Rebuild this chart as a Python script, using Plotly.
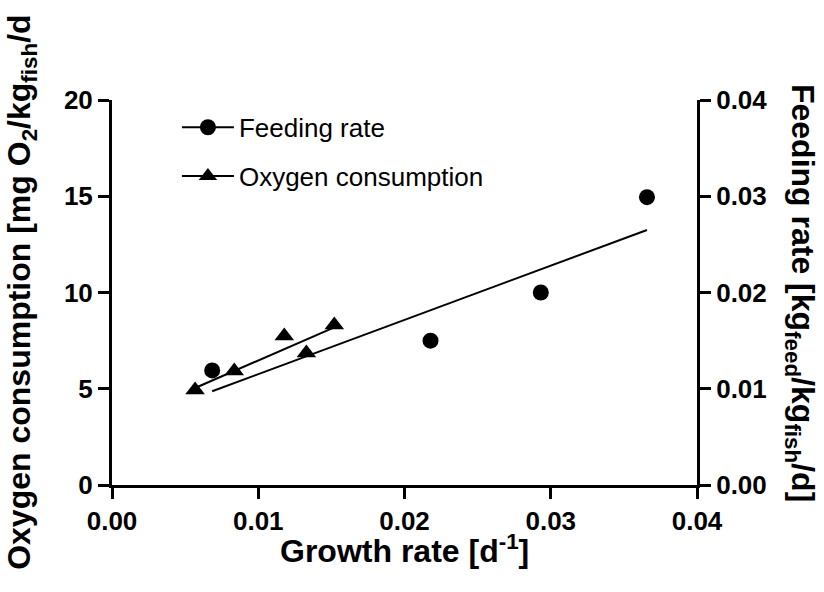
import numpy as np
import plotly.graph_objects as go

# Data
growth_feed = [0.00685, 0.02178, 0.02932, 0.03658]
feeding_rate = [0.0119, 0.0150, 0.0200, 0.0299]

growth_oxy = [0.00568, 0.00836, 0.01178, 0.01329, 0.0152]
oxygen_consumption = [4.94, 5.92, 7.74, 6.86, 8.31]

x_ticks = [0.00, 0.01, 0.02, 0.03, 0.04]
y_ticks = [0, 5, 10, 15, 20]
y2_ticks = [0.00, 0.01, 0.02, 0.03, 0.04]

FONT = "Liberation Sans, Arial, sans-serif"

# linear fits
pf = np.polyfit(growth_feed, feeding_rate, 1)
po = np.polyfit(growth_oxy, oxygen_consumption, 1)
fx = [min(growth_feed), max(growth_feed)]
ox = [min(growth_oxy), max(growth_oxy)]

fig = go.Figure()

fig.add_trace(go.Scatter(x=fx, y=list(np.polyval(pf, fx)), mode="lines",
                         line=dict(color="black", width=2), yaxis="y2",
                         showlegend=False, hoverinfo="skip"))
fig.add_trace(go.Scatter(x=ox, y=list(np.polyval(po, ox)), mode="lines",
                         line=dict(color="black", width=2),
                         showlegend=False, hoverinfo="skip"))
fig.add_trace(go.Scatter(x=growth_feed, y=feeding_rate, mode="markers", yaxis="y2",
                         marker=dict(symbol="circle", size=16, color="black"),
                         showlegend=False))
fig.add_trace(go.Scatter(x=growth_oxy, y=oxygen_consumption, mode="markers",
                         marker=dict(symbol="triangle-up", size=17, color="black"),
                         showlegend=False))

# legend entries
fig.add_trace(go.Scatter(x=[None], y=[None], mode="lines+markers", name="Feeding rate",
                         line=dict(color="black", width=2),
                         marker=dict(symbol="circle", size=16, color="black"),
                         legendgroup="a"))
fig.add_trace(go.Scatter(x=[None], y=[None], mode="lines+markers", name="Oxygen consumption",
                         line=dict(color="black", width=2),
                         marker=dict(symbol="triangle-up", size=17, color="black"),
                         legendgroup="b"))

axis_common = dict(showgrid=False, zeroline=False, showline=True, linecolor="black",
                   linewidth=3, ticks="outside", ticklen=11, tickwidth=3, tickcolor="black",
                   tickfont=dict(family=FONT, size=26, color="black", weight="bold"))

fig.update_layout(
    width=824, height=592,
    margin=dict(l=112, r=127, t=100, b=107),
    paper_bgcolor="white", plot_bgcolor="white",
    font=dict(family=FONT, color="black"),
    xaxis=dict(range=[0, 0.04], tickvals=x_ticks, tickformat=".2f", **axis_common),
    yaxis=dict(range=[0, 20], tickvals=y_ticks, **axis_common),
    yaxis2=dict(range=[0, 0.04], tickvals=y2_ticks, tickformat=".2f", overlaying="y",
                side="right", anchor="x", **axis_common),
    legend=dict(x=0.111, y=0.99, xanchor="left", yanchor="top", bgcolor="rgba(0,0,0,0)",
                font=dict(family=FONT, size=26, color="black"),
                tracegroupgap=12, traceorder="grouped", itemwidth=52),
    showlegend=True,
    annotations=[
        dict(text="Growth rate [d<sup>-1</sup>]",
             xref="paper", yref="paper", x=0.5, y=-0.165,
             xanchor="center", yanchor="middle", showarrow=False,
             font=dict(family=FONT, size=32, color="black", weight="bold")),
        dict(text="Oxygen consumption [mg O<sub>2</sub>/kg<sub>fish</sub>/d",
             textangle=-90, xref="paper", yref="paper", x=-0.155, y=0.5,
             xanchor="center", yanchor="middle", showarrow=False,
             font=dict(family=FONT, size=32, color="black", weight="bold")),
        dict(text="Feeding rate [kg<sub>feed</sub>/kg<sub>fish</sub>/d]",
             textangle=90, xref="paper", yref="paper", x=1.177, y=0.5,
             xanchor="center", yanchor="middle", showarrow=False,
             font=dict(family=FONT, size=32, color="black", weight="bold")),
    ],
)

fig.write_html("out.html")
